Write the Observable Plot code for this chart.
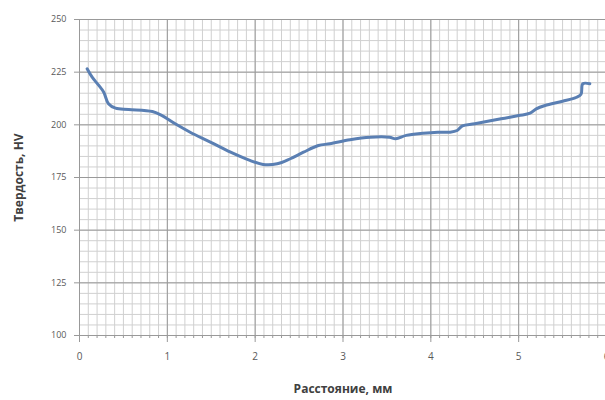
<!DOCTYPE html>
<html>
<head>
<meta charset="utf-8">
<script src="https://cdn.jsdelivr.net/npm/d3@7"></script>
<script src="https://cdn.jsdelivr.net/npm/@observablehq/plot@0.6"></script>
<style>
  html, body { margin: 0; padding: 0; background: #fff; }
  #chart { width: 605px; height: 400px; }
</style>
</head>
<body>
<div id="chart"></div>
<script>
// Distance, mm
const distance = [0.087, 0.144, 0.22, 0.276, 0.33, 0.41, 0.56, 0.83, 0.94, 1.09, 1.26, 1.49, 1.72, 1.94, 2.09, 2.25, 2.4, 2.55, 2.72, 2.85, 3.08, 3.31, 3.53, 3.6, 3.72, 3.91, 4.08, 4.22, 4.3, 4.36, 4.5, 4.8, 5.0, 5.13, 5.2, 5.3, 5.5, 5.66, 5.71, 5.73, 5.81];
// Hardness, HV
const hardness = [226.6, 222.6, 218.7, 215.5, 210, 207.9, 207.3, 206.3, 204.4, 200.5, 196.5, 191.8, 187, 183.1, 181.2, 181.5, 183.9, 187, 190.2, 191, 192.9, 194.1, 194.1, 193.4, 195, 196, 196.5, 196.5, 197.3, 199.5, 200.5, 202.9, 204.4, 205.5, 207.6, 209.2, 211.2, 213.1, 214.5, 219.5, 219.5];

const xMajor = [0, 1, 2, 3, 4, 5, 6];
const yMajor = [100, 125, 150, 175, 200, 225, 250];
const xMinor = d3.range(0, 61).map(i => i / 10);
const yMinor = d3.range(100, 251, 5);

const data = distance.map((d, i) => ({x: d, y: hardness[i]}));

const chart = Plot.plot({
  width: 605,
  height: 400,
  marginLeft: 79,
  marginRight: -1,
  marginTop: 19,
  marginBottom: 65,
  style: {fontFamily: "'Open Sans', sans-serif", background: "#fff", overflow: "visible"},
  x: {domain: [0, 6]},
  y: {domain: [100, 250]},
  marks: [
    Plot.ruleX(xMinor, {stroke: "#d0d0d0", strokeWidth: 1}),
    Plot.ruleY(yMinor, {stroke: "#d0d0d0", strokeWidth: 1}),
    Plot.ruleX(xMajor, {stroke: "#999999", strokeWidth: 1}),
    Plot.ruleY(yMajor, {stroke: "#999999", strokeWidth: 1}),
    Plot.axisX(xMinor, {tickSize: 3, tickFormat: () => "", stroke: "#999999", label: null}),
    Plot.axisX({
      ticks: xMajor, tickSize: 7, tickPadding: 10, tickFormat: d3.format("d"),
      stroke: "#999999", fill: "#595959", fontSize: 10,
      label: "Расстояние, мм", labelAnchor: "center", labelOffset: 57, labelArrow: "none"
    }),
    Plot.axisY({
      ticks: yMajor, tickSize: 5, tickPadding: 8, tickFormat: d3.format("d"),
      stroke: "#999999", fill: "#595959", fontSize: 9,
      label: "Твердость, HV", labelAnchor: "center", labelOffset: 65, labelArrow: "none"
    }),
    Plot.line(data, {x: "x", y: "y", stroke: "#5a7fb3", strokeWidth: 3, curve: "catmull-rom", strokeLinejoin: "round", strokeLinecap: "round"})
  ]
});

// style axis labels bold
chart.querySelectorAll("g[aria-label='x-axis label'] text, g[aria-label='y-axis label'] text").forEach(t => {
  t.setAttribute("font-weight", "bold");
  t.setAttribute("font-size", "12");
  t.setAttribute("fill", "#404040");
});
document.getElementById("chart").appendChild(chart);
</script>
</body>
</html>
